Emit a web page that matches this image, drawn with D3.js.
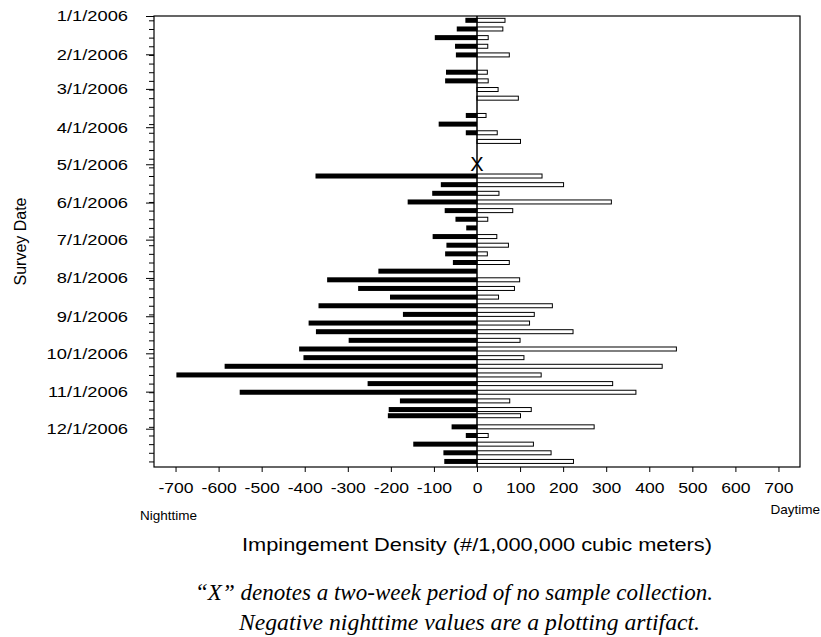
<!DOCTYPE html>
<html>
<head>
<meta charset="utf-8">
<script src="https://cdn.jsdelivr.net/npm/d3@7"></script>
<style>
  html, body { margin: 0; padding: 0; background: #fff; }
  svg { display: block; }
</style>
</head>
<body>
<svg id="chart" width="821" height="637"></svg>
<script>
// ---------- data ----------
const sampleDates = [
  "2006-01-04","2006-01-11","2006-01-18","2006-01-25","2006-02-01",
  "2006-02-15","2006-02-22","2006-03-01","2006-03-08",
  "2006-03-22","2006-03-29","2006-04-05","2006-04-12",
  "2006-05-10","2006-05-17","2006-05-24","2006-05-31","2006-06-07",
  "2006-06-14","2006-06-21","2006-06-28","2006-07-05","2006-07-12",
  "2006-07-19","2006-07-26","2006-08-02","2006-08-09","2006-08-16",
  "2006-08-23","2006-08-30","2006-09-06","2006-09-13","2006-09-20",
  "2006-09-27","2006-10-04","2006-10-11","2006-10-18","2006-10-25",
  "2006-11-01","2006-11-08","2006-11-15","2006-11-20","2006-11-29",
  "2006-12-06","2006-12-13","2006-12-20","2006-12-27"
];
const nightValues = [
  -27, -47, -98, -51, -49,
  -72, -74, 0, 0,
  -26, -89, -26, 0,
  -375, -84, -104, -161, -75,
  -50, -25, -103, -71, -74,
  -56, -229, -348, -276, -202,
  -368, -172, -391, -374, -298,
  -413, -403, -586, -698, -254,
  -551, -179, -205, -207, -59,
  -26, -148, -78, -76
];
const dayValues = [
  65, 60, 26, 25, 75,
  24, 26, 49, 96,
  21, 0, 47, 101,
  151, 201, 51, 312, 83,
  25, 0, 46, 73, 24,
  75, 0, 99, 87, 50,
  175, 133, 122, 223, 100,
  463, 109, 430, 149, 315,
  369, 76, 126, 101, 272,
  26, 131, 172, 224
];
const noSampleDates = ["2006-04-30"];
const monthTickDates = [
  "2006-01-01","2006-02-01","2006-03-01","2006-04-01","2006-05-01","2006-06-01",
  "2006-07-01","2006-08-01","2006-09-01","2006-10-01","2006-11-01","2006-12-01"
];
const xTickValues = [-700,-600,-500,-400,-300,-200,-100,0,100,200,300,400,500,600,700];
const yDomain = ["2006-01-01","2007-01-01"];
const xDomain = [-750, 750];

// ---------- setup ----------
const parse = d3.utcParse("%Y-%m-%d");
const fmt = d3.utcFormat("%-m/%-d/%Y");
const svg = d3.select("#chart");
const L = 154, R = 800, T = 16, B = 467;
const sans = "Liberation Sans, Arial, sans-serif";

function stretch(sel, factor) {
  sel.each(function () {
    const w = this.getComputedTextLength();
    d3.select(this).attr("textLength", w * factor).attr("lengthAdjust", "spacingAndGlyphs");
  });
}
function fitWidth(sel, width) {
  sel.attr("textLength", width).attr("lengthAdjust", "spacingAndGlyphs");
}

const x = d3.scaleLinear().domain(xDomain).range([L, R]);
const y = d3.scaleUtc().domain(yDomain.map(parse)).range([T, B]);
const mid = d => d3.utcHour.offset(d, 12);

const rows = sampleDates.map((d, i) => ({ date: parse(d), night: nightValues[i], day: dayValues[i] }));
const barH = 5;

// frame
svg.append("rect").attr("x", L).attr("y", T).attr("width", R - L).attr("height", B - T)
  .attr("fill", "none").attr("stroke", "#000").attr("stroke-width", 1.2);

// night bars
svg.append("g").selectAll("rect").data(rows.filter(r => r.night < 0)).join("rect")
  .attr("x", d => x(d.night)).attr("width", d => x(0) - x(d.night))
  .attr("y", d => y(mid(d.date)) - barH / 2).attr("height", barH)
  .attr("fill", "#000");

// day bars
svg.append("g").selectAll("rect").data(rows.filter(r => r.day > 0)).join("rect")
  .attr("x", x(0)).attr("width", d => x(d.day) - x(0))
  .attr("y", d => y(mid(d.date)) - barH / 2 + 0.5).attr("height", barH - 1)
  .attr("fill", "#fff").attr("stroke", "#000").attr("stroke-width", 1);

// zero line
svg.append("line").attr("x1", x(0)).attr("x2", x(0)).attr("y1", T).attr("y2", B)
  .attr("stroke", "#000").attr("stroke-width", 1.5);

// no-sample marker
svg.append("g").selectAll("text").data(noSampleDates.map(parse)).join("text")
  .attr("x", x(0)).attr("y", d => y(mid(d)) + 7)
  .attr("text-anchor", "middle").attr("font-family", sans)
  .attr("font-size", 20).text("X");

// y axis (left)
const minorTicks = d3.utcWednesday.range(y.domain()[0], y.domain()[1]).map(mid);
const yMinor = d3.axisLeft(y).tickValues(minorTicks).tickSize(5).tickFormat("");
svg.append("g").attr("transform", `translate(${L},0)`).call(yMinor)
  .call(g => g.select(".domain").remove());
const yMajor = d3.axisLeft(y).tickValues(monthTickDates.map(parse)).tickSize(8).tickPadding(18).tickFormat(fmt);
svg.append("g").attr("transform", `translate(${L},0)`).call(yMajor)
  .call(g => g.select(".domain").remove())
  .call(g => g.selectAll("text").attr("font-family", sans).attr("font-size", 15).attr("fill", "#000").call(stretch, 1.22));

// x axis
const xAxis = d3.axisBottom(x).tickValues(xTickValues).tickSize(5).tickPadding(10).tickFormat(d => String(d));
svg.append("g").attr("transform", `translate(0,${B})`).call(xAxis)
  .call(g => g.select(".domain").remove())
  .call(g => g.selectAll("text").attr("font-family", sans).attr("font-size", 15).attr("fill", "#000").call(stretch, 1.17));

svg.selectAll(".tick line").attr("stroke", "#000");

// labels
svg.append("text").attr("x", 140).attr("y", 520)
  .attr("font-family", sans).attr("font-size", 13.5).text("Nighttime");
svg.append("text").attr("x", 820).attr("y", 514).attr("text-anchor", "end")
  .attr("font-family", sans).attr("font-size", 13.5).text("Daytime");

svg.append("text").attr("transform", `translate(26,${(T + B) / 2}) rotate(-90)`)
  .attr("text-anchor", "middle").attr("font-family", sans)
  .attr("font-size", 16).text("Survey Date");

svg.append("text").attr("x", x(0)).attr("y", 551).attr("text-anchor", "middle")
  .attr("font-family", sans).attr("font-size", 18)
  .text("Impingement Density (#/1,000,000 cubic meters)").call(fitWidth, 470);

const noteFont = "Liberation Serif, Times New Roman, serif";
svg.append("text").attr("x", 195).attr("y", 600)
  .attr("font-family", noteFont).attr("font-style", "italic").attr("font-size", 23)
  .text("\u201CX\u201D denotes a two-week period of no sample collection.").call(fitWidth, 518);
svg.append("text").attr("x", 239).attr("y", 630)
  .attr("font-family", noteFont).attr("font-style", "italic").attr("font-size", 23)
  .text("Negative nighttime values are a plotting artifact.").call(fitWidth, 461);
</script>
</body>
</html>
